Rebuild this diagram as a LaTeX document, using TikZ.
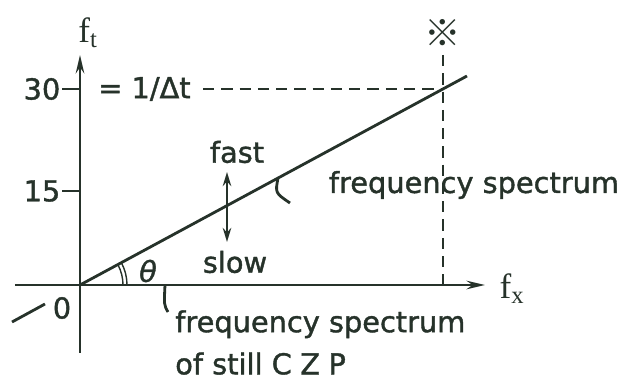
\documentclass[tikz,border=0pt]{standalone}
\usepackage{fontspec}
\setmainfont{DejaVu Sans}
\newfontfamily\labelfont[FakeBold=1.3]{DejaVu Sans}
\newfontfamily\axisfont{Liberation Serif}
\newfontfamily\cjk{Noto Sans CJK JP}
\usepackage{tikz}
\usetikzlibrary{arrows.meta,positioning}
\definecolor{ink}{RGB}{38,50,42}

\begin{document}
\begin{tikzpicture}[
    axis/.style={draw=ink, line width=2pt, -{Stealth[length=13pt,width=6pt]}},
    curve/.style={draw=ink, line width=2pt},
    guide/.style={draw=ink, line width=1.5pt, dash pattern=on 8pt off 5pt},
    lbl/.style={font=\labelfont\fontsize{20.5}{30}\selectfont, text=ink, inner sep=0pt},
    >=Stealth
]
\useasboundingbox (-2,-2.575) rectangle (13.75,7.125);

% axes
\coordinate (o) at (0,0);
\coordinate (ttop) at (0,5.75);
\coordinate (tbot) at (0,-1.7);
\coordinate (xl) at (-1.625,0);
\coordinate (xr) at (10.125,0);
\draw[axis] (tbot) -- (ttop);
\draw[axis] (xl) -- (xr);
\node[lbl, font=\axisfont\fontsize{25}{28}\selectfont] (ft) at (0.2,6.3) {f\textsubscript{t}};
\node[lbl, font=\axisfont\fontsize{25}{28}\selectfont] (fx) at (10.8,-0.1) {f\textsubscript{x}};

% ticks
\coordinate (t30) at (0,4.9);
\coordinate (t15) at (0,2.35);
\draw[curve] (t30) -- ++(-0.45,0) coordinate (t30l);
\draw[curve] (t15) -- ++(-0.45,0) coordinate (t15l);
\node[lbl, anchor=east, xshift=-1pt] (n30) at (t30l) {30};
\node[lbl, anchor=east, xshift=-1pt] (n15) at (t15l) {15};
\node[lbl] (n0) at (-0.45,-0.575) {0};
\node[lbl, anchor=west] (dt) at (0.45,4.9) {= 1/Δt};

% spectrum line
\coordinate (lend) at (9.675,5.225);
\coordinate (peak) at (9.075,4.9);
\coordinate (neg1) at (-1.7,-0.925);
\coordinate (neg2) at (-0.875,-0.475);
\draw[curve] (o) -- (lend);
\draw[curve] (neg1) -- (neg2);

% dashed guides
\coordinate (hstart) at (3.075,4.9);
\coordinate (vtop) at (9.075,5.75);
\coordinate (vbot) at (9.075,0);
\draw[guide] (hstart) -- (peak);
\draw[guide] (vtop) -- (vbot);
\node[lbl, font=\cjk\bfseries\fontsize{26}{30}\selectfont] (mark) at (9.075,6.3) {※};

% fast / slow
\coordinate (sl) at (3.675,1.075);
\coordinate (fa) at (3.675,2.825);
\draw[curve, {Stealth[length=10pt,width=6pt]}-{Stealth[length=10pt,width=6pt]}] (sl) -- (fa);
\node[lbl] (fast) at (3.925,3.325) {fast};
\node[lbl] (slow) at (3.875,0.575) {slow};

% angle
\draw[ink, line width=1pt] (1.075,0) arc[start angle=0, end angle=28.4, radius=1.075];
\draw[ink, line width=1pt] (1.175,0) arc[start angle=0, end angle=28.4, radius=1.175];
\node[lbl, font=\labelfont\itshape\fontsize{20.5}{30}\selectfont] (theta) at (1.7,0.35) {θ};

% leaders and labels
\coordinate (lead1) at (4.95,2.67);
\coordinate (lead2) at (2.125,0);
\draw[curve] (lead1) .. controls (4.88,2.3) .. (5.25,2.05);
\draw[curve] (lead2) .. controls (2.1,-0.5) .. (2.2,-0.675);
\node[lbl] (moving) at (9.85,2.5) {frequency spectrum};
\node[lbl, anchor=north west, align=left] (still) at (2.375,-0.625)
    {frequency spectrum\\of still C\hspace{6pt}Z\hspace{6pt}P};
\end{tikzpicture}
\end{document}
